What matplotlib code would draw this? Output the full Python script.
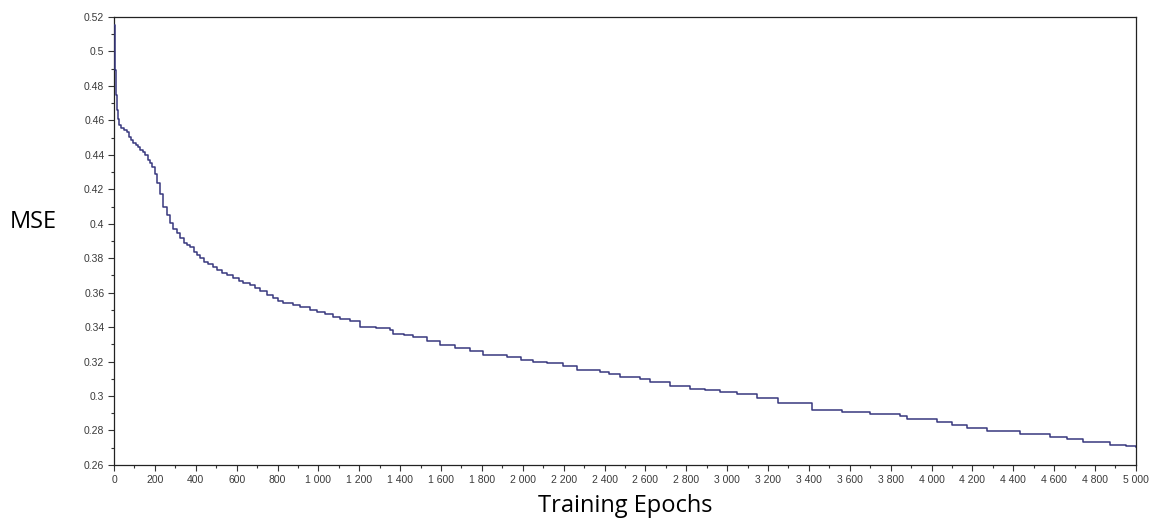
import matplotlib.pyplot as plt
from matplotlib.ticker import MultipleLocator, FuncFormatter

# === Data ===
epochs = [0, 6, 9, 13, 19, 25, 34, 50, 62, 72, 82, 93, 105, 117, 129, 141,
          152, 165, 176, 186, 198, 210, 225, 240, 257, 274, 290, 308, 325,
          340, 356, 372, 390, 406, 421, 440, 460, 484, 504, 530, 553, 582,
          610, 631, 665, 690, 714, 748, 778, 800, 827, 876, 910, 959, 993,
          1030, 1071, 1106, 1155, 1203, 1280, 1350, 1365, 1420, 1463, 1530,
          1595, 1670, 1742, 1805, 1923, 1990, 2050, 2120, 2197, 2265, 2378,
          2420, 2476, 2573, 2622, 2720, 2818, 2890, 2965, 3048, 3146, 3249,
          3415, 3560, 3699, 3845, 3880, 4026, 4100, 4173, 4271, 4432, 4579,
          4662, 4741, 4873, 4950, 5000]
mse = [0.5154, 0.489, 0.4747, 0.466, 0.461, 0.4573, 0.4556, 0.4545, 0.453,
       0.4505, 0.4486, 0.447, 0.4457, 0.4445, 0.4428, 0.4415, 0.440, 0.437,
       0.435, 0.433, 0.429, 0.4237, 0.417, 0.4097, 0.405, 0.4004, 0.397,
       0.3946, 0.3915, 0.389, 0.3878, 0.3865, 0.3835, 0.382, 0.3801, 0.378,
       0.3765, 0.3749, 0.3732, 0.3715, 0.370, 0.3685, 0.367, 0.3656, 0.3645,
       0.3625, 0.361, 0.3587, 0.357, 0.355, 0.354, 0.353, 0.3517, 0.350,
       0.3488, 0.3475, 0.3459, 0.345, 0.3436, 0.340, 0.3395, 0.3383, 0.336,
       0.3352, 0.3343, 0.332, 0.3297, 0.328, 0.3262, 0.3238, 0.3227, 0.321,
       0.3198, 0.319, 0.3175, 0.3151, 0.314, 0.3128, 0.3111, 0.310, 0.3082,
       0.306, 0.3041, 0.3035, 0.3024, 0.3012, 0.2989, 0.296, 0.2919, 0.2905,
       0.2896, 0.2884, 0.2867, 0.285, 0.2832, 0.2815, 0.2797, 0.278, 0.2762,
       0.275, 0.2733, 0.2716, 0.2708, 0.2704]

x_ticks = list(range(0, 5001, 200))
y_ticks = [0.26, 0.28, 0.30, 0.32, 0.34, 0.36, 0.38, 0.40, 0.42, 0.44, 0.46, 0.48, 0.50, 0.52]


def thousands(v, pos):
    v = int(round(v))
    return f"{v:,}".replace(",", " ")


def short(v, pos):
    return f"{v:.2f}".rstrip("0").rstrip(".")


# === Plotting ===
fig = plt.figure(figsize=(11.52, 5.23), dpi=100)
ax = fig.add_axes([0.099, 0.111, 0.887, 0.8565])

ax.plot(epochs, mse, drawstyle="steps-post", color="#38387f", linewidth=1.1, zorder=3)

ax.set_xlim(0, 5000)
ax.set_ylim(0.26, 0.52)
ax.set_xticks(x_ticks)
ax.set_yticks(y_ticks)
ax.xaxis.set_minor_locator(MultipleLocator(100))
ax.yaxis.set_minor_locator(MultipleLocator(0.01))
ax.xaxis.set_major_formatter(FuncFormatter(thousands))
ax.yaxis.set_major_formatter(FuncFormatter(short))

ax.tick_params(which="major", length=4, width=0.8, color="#333333",
               labelsize=7.5, labelcolor="#3a3a3a", pad=3)
ax.tick_params(which="minor", length=2.5, width=0.8, color="#333333")
for lbl in ax.get_xticklabels() + ax.get_yticklabels():
    lbl.set_family("Liberation Sans")
for s in ax.spines.values():
    s.set_linewidth(0.9)
    s.set_color("#222222")

fig.text(0.0287, 0.5755, "MSE", fontsize=17, family="Open Sans", ha="center", va="center")
fig.text(0.5425, 0.0325, "Training Epochs", fontsize=17, family="Open Sans", ha="center", va="center")

fig.savefig("out.png", dpi=100)
